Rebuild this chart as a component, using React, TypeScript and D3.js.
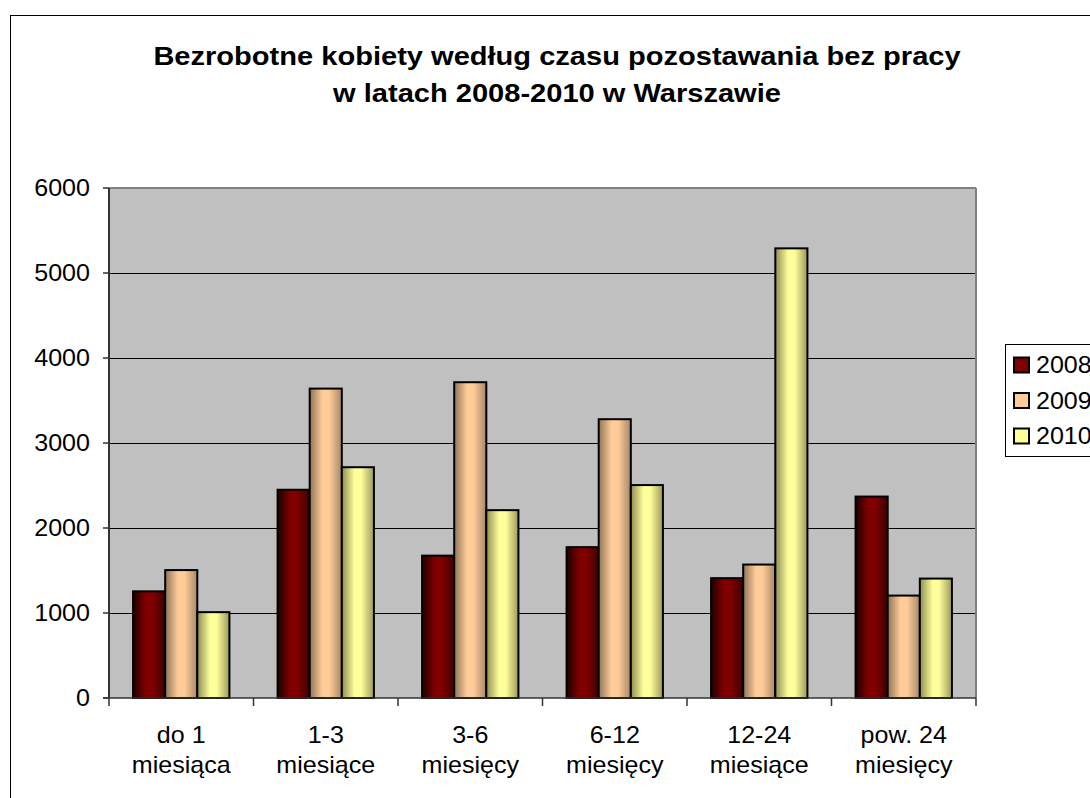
import React from "react";
import * as d3 from "d3";

const title1 = "Bezrobotne kobiety według czasu pozostawania bez pracy";
const title2 = "w latach 2008-2010 w Warszawie";
const categories = ["do 1|miesiąca", "1-3|miesiące", "3-6|miesięcy", "6-12|miesięcy", "12-24|miesiące", "pow. 24|miesięcy"];
const years = ["2008", "2009", "2010"];
const v2008 = [1255, 2450, 1675, 1775, 1410, 2370];
const v2009 = [1505, 3640, 3715, 3280, 1570, 1205];
const v2010 = [1010, 2715, 2210, 2505, 5290, 1405];
const yTicks = [0, 1000, 2000, 3000, 4000, 5000, 6000];

const seriesValues = [v2008, v2009, v2010];
const baseColors = ["#800000", "#FFCC99", "#FFFF99"];
const darkColors = ["#1e0000", "#8f7458", "#8c8c55"];
const rightColors = ["#400000", "#a88866", "#9a9a5c"];

const FONT = "'Liberation Sans', Arial, sans-serif";

export default function App() {
  const left = 109, right = 976, top = 188, bottom = 698;
  const x0 = d3.scaleBand<string>().domain(categories).range([left, right]).padding(0);
  const x1 = d3.scaleBand<string>().domain(years).range([0, x0.bandwidth()]).paddingInner(0).paddingOuter(0.75);
  const y = d3.scaleLinear().domain([0, 6000]).range([bottom, top]);
  const sx = 1.09;
  const fs = 23;

  const st = (x: number, yy: number, s: number) => `translate(${x},${yy}) scale(${s},1)`;

  return (
    <svg width={1090} height={798} style={{ position: "absolute", left: 0, top: 0 }} fontFamily={FONT}>
      <defs>
        {years.map((yr, i) => (
          <linearGradient id={`g${yr}`} key={yr} x1="0" x2="1" y1="0" y2="0">
            <stop offset="0" stopColor={darkColors[i]} />
            <stop offset="0.4" stopColor={baseColors[i]} />
            <stop offset="0.6" stopColor={baseColors[i]} />
            <stop offset="1" stopColor={rightColors[i]} />
          </linearGradient>
        ))}
      </defs>
      <rect x={0} y={0} width={1090} height={798} fill="#fff" />
      <rect x={10.5} y={15.5} width={1100} height={800} fill="none" stroke="#000" strokeWidth={1} />

      <text transform={st(557, 65, 1.14)} textAnchor="middle" fontWeight="bold" fontSize={25.5} fill="#000">{title1}</text>
      <text transform={st(557, 102, 1.14)} textAnchor="middle" fontWeight="bold" fontSize={25.5} fill="#000">{title2}</text>

      <rect x={left} y={top} width={right - left} height={bottom - top} fill="#C0C0C0" />
      {yTicks.filter(t => t > 0 && t < 6000).map(t => (
        <line key={t} x1={left} x2={right} y1={Math.round(y(t)) + 0.5} y2={Math.round(y(t)) + 0.5} stroke="#000" strokeWidth={1} />
      ))}
      <line x1={left} x2={right} y1={top} y2={top} stroke="#808080" strokeWidth={2} />
      <line x1={right} x2={right} y1={top} y2={bottom} stroke="#808080" strokeWidth={2} />

      {seriesValues.map((vals, si) =>
        vals.map((v, ci) => {
          const bx = (x0(categories[ci]) as number) + (x1(years[si]) as number);
          return (
            <rect key={`${si}-${ci}`} x={bx} y={y(v)} width={x1.bandwidth()} height={bottom - y(v)}
              fill={`url(#g${years[si]})`} stroke="#000" strokeWidth={2} />
          );
        })
      )}

      <line x1={left} x2={left} y1={top} y2={bottom} stroke="#333" strokeWidth={2} />
      <line x1={left - 6} x2={right} y1={bottom} y2={bottom} stroke="#333" strokeWidth={1.5} />
      {yTicks.map(t => (
        <g key={t}>
          <line x1={left - 6} x2={left} y1={y(t)} y2={y(t)} stroke="#333" strokeWidth={1.5} />
          <text transform={st(90, y(t) + 8.3, sx)} textAnchor="end" fontSize={fs} fill="#000">{t}</text>
        </g>
      ))}
      {d3.range(categories.length + 1).map(i => {
        const xx = left + i * x0.bandwidth();
        return <line key={i} x1={xx} x2={xx} y1={bottom} y2={bottom + 8} stroke="#333" strokeWidth={1.5} />;
      })}
      {categories.map(c => {
        const cx = (x0(c) as number) + x0.bandwidth() / 2;
        const [a, b] = c.split("|");
        return (
          <g key={c}>
            <text transform={st(cx, 743, sx)} textAnchor="middle" fontSize={fs} fill="#000">{a}</text>
            <text transform={st(cx, 773, sx)} textAnchor="middle" fontSize={fs} fill="#000">{b}</text>
          </g>
        );
      })}

      <rect x={1005.5} y={344.5} width={120} height={112} fill="#fff" stroke="#000" strokeWidth={1} />
      {years.map((yr, i) => {
        const cy = 365 + i * 35.5;
        return (
          <g key={yr}>
            <rect x={1014} y={cy - 7.5} width={15} height={15} fill={baseColors[i]} stroke="#000" strokeWidth={2} />
            <text transform={st(1036, cy + 8, sx)} fontSize={fs} fill="#000">{yr}</text>
          </g>
        );
      })}
    </svg>
  );
}
